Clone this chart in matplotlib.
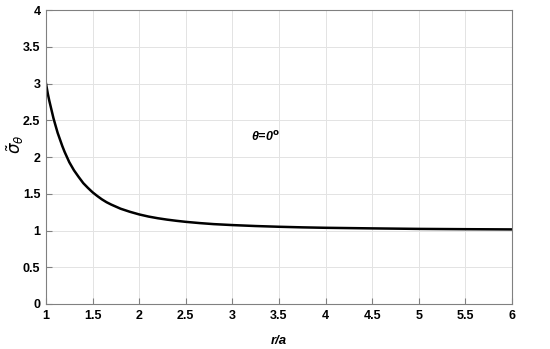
import numpy as np
from matplotlib import pyplot as plt

# verdier lest av figuren
r_a = [1.0, 1.01, 1.02, 1.035, 1.05, 1.065, 1.08, 1.1, 1.125, 1.15, 1.175,
       1.2, 1.25, 1.3, 1.35, 1.4, 1.45, 1.5, 1.55, 1.6, 1.65, 1.7, 1.8, 1.9,
       2.0, 2.1, 2.2, 2.3, 2.4, 2.5, 2.65, 2.8, 3.0, 3.25, 3.5, 3.75, 4.0,
       4.5, 5.0, 5.5, 6.0]
sigma = [3.0, 2.93, 2.86, 2.77, 2.69, 2.61, 2.53, 2.44, 2.33, 2.24, 2.15,
         2.07, 1.93, 1.82, 1.73, 1.645, 1.58, 1.52, 1.47, 1.424, 1.385, 1.353,
         1.297, 1.255, 1.219, 1.19, 1.167, 1.148, 1.132, 1.118, 1.101, 1.087,
         1.074, 1.061, 1.051, 1.043, 1.037, 1.029, 1.022, 1.018, 1.015]

xticks = [1, 1.5, 2, 2.5, 3, 3.5, 4, 4.5, 5, 5.5, 6]
xlabels = ['1', '1.5', '2', '2.5', '3', '3.5', '4', '4.5', '5', '5.5', '6']
yticks = [0, 0.5, 1, 1.5, 2, 2.5, 3, 3.5, 4]
ylabels = ['0', '0.5', '1', '1.5', '2', '2.5', '3', '3.5', '4']

plt.rcParams['font.family'] = ['Liberation Sans', 'DejaVu Sans']

fig = plt.figure(figsize=(5.5, 3.49), dpi=100)
ax = fig.add_axes([0.0836, 0.129, 0.8474, 0.842])

ax.plot(r_a, sigma, color='black', linewidth=1.8)

ax.set_xlim(1, 6)
ax.set_ylim(0, 4)
ax.set_xticks(xticks)
ax.set_xticklabels(xlabels, fontweight='bold', fontsize=9)
ax.set_yticks(yticks)
ax.set_yticklabels(ylabels, fontweight='bold', fontsize=9)
ax.tick_params(direction='in', length=4, color='#808080', pad=4)
ax.grid(True, color='#e3e3e3', linewidth=0.7)
for s in ax.spines.values():
    s.set_color('#808080')
    s.set_linewidth(0.8)

ax.set_xlabel('r/a', fontstyle='italic', fontweight='bold', fontsize=9.5,
              labelpad=10)
ax.set_ylabel(r'$\tilde{\sigma}_{\theta}$', fontsize=12)
ax.yaxis.set_label_coords(-0.042, 0.545)
ax.text(3.2, 2.22, 'θ=0' + r'$^{\mathbf{o}}$', fontstyle='italic',
        fontweight='bold', fontsize=9)

fig.savefig('out.png', dpi=100)
